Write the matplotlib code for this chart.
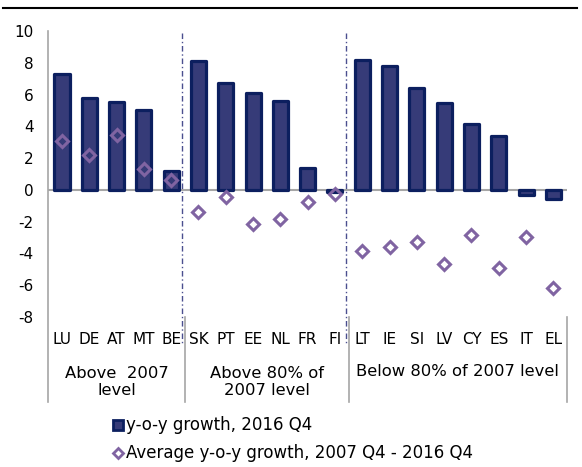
import matplotlib
matplotlib.use("Agg")
import matplotlib.pyplot as plt
from matplotlib.lines import Line2D
import numpy as np

countries = ["LU", "DE", "AT", "MT", "BE", "SK", "PT", "EE", "NL", "FR", "FI",
             "LT", "IE", "SI", "LV", "CY", "ES", "IT", "EL"]
growth_2016q4 = [7.3, 5.8, 5.55, 5.05, 1.2, 8.1, 6.7, 6.1, 5.6, 1.4, -0.15,
                 8.2, 7.8, 6.4, 5.5, 4.15, 3.4, -0.35, -0.6]
avg_growth = [3.05, 2.17, 3.46, 1.31, 0.61, -1.37, -0.46, -2.17, -1.85, -0.76, -0.25,
              -3.84, -3.61, -3.31, -4.64, -2.87, -4.89, -2.97, -6.16]
groups = ["Above  2007\nlevel", "Above 80% of\n2007 level", "Below 80% of 2007 level"]
group_sizes = [5, 6, 8]
yticks = [-8, -6, -4, -2, 0, 2, 4, 6, 8, 10]
legend_labels = ["y-o-y growth, 2016 Q4", "Average y-o-y growth, 2007 Q4 - 2016 Q4"]

BAR_FILL = "#363b78"
BAR_EDGE = "#0c1f5f"
DIAMOND = "#8064a2"
GRID_GRAY = "#a6a6a6"
FS = 11
FS_GROUP = 11.8
FS_LEG = 12

fig = plt.figure(figsize=(5.82, 4.67), dpi=100)
ax = fig.add_axes([48.35 / 582, 1 - 317 / 467, (567 - 48.35) / 582, 286 / 467])

x = np.arange(len(countries)) + 0.5
ax.bar(x, growth_2016q4, width=0.55, color=BAR_FILL, edgecolor=BAR_EDGE,
       linewidth=2.3, joinstyle="round", zorder=2)
ax.plot(x, avg_growth, linestyle="none", marker="D", markersize=6.3,
        markerfacecolor="none", markeredgecolor=DIAMOND, markeredgewidth=2.2, zorder=3)

ax.set_xlim(0, len(countries))
ax.set_ylim(-8, 10)
ax.set_yticks(yticks)
ax.set_yticklabels([str(v) for v in yticks], fontsize=FS)
ax.tick_params(axis="y", length=0, pad=10.5)
ax.set_xticks([])
for s in ["top", "right", "bottom", "left"]:
    ax.spines[s].set_visible(False)

ax.axhline(0, color=GRID_GRAY, linewidth=1.5, zorder=1)

trans = ax.get_xaxis_transform()
# left axis line extending into label area
ax.add_line(Line2D([0, 0], [1.0, -0.297], transform=trans, color=GRID_GRAY,
                   linewidth=1.2, clip_on=False))

# group separators
bounds = np.cumsum([0] + group_sizes)
for b in bounds[1:]:
    ax.add_line(Line2D([b, b], [0, -0.297], transform=trans, color=GRID_GRAY,
                       linewidth=1.2, clip_on=False))
for b in bounds[1:-1]:
    ax.add_line(Line2D([b - 0.1, b - 0.1], [0.993, -0.098], transform=trans,
                       color="#4b4f8f", linewidth=1.0, linestyle=(0, (4, 2, 1, 2)),
                       clip_on=False, zorder=1))

# category labels
for xi, c in zip(x, countries):
    ax.text(xi, -0.080, c, transform=trans, ha="center", va="center", fontsize=FS)

# group labels
for i, g in enumerate(groups):
    cx = (bounds[i] + bounds[i + 1]) / 2
    if "\n" in g:
        ax.text(cx, -0.227, g, transform=trans, ha="center", va="center",
                fontsize=FS_GROUP, linespacing=1.1)
    else:
        ax.text(cx, -0.192, g, transform=trans, ha="center", va="center", fontsize=FS_GROUP)

# top rule line
fig.add_artist(Line2D([3 / 582, 577 / 582], [1 - 8 / 467, 1 - 8 / 467],
                      transform=fig.transFigure, color="black", linewidth=1.5))

# legend (manual)
fig.add_artist(Line2D([118 / 582], [1 - 425 / 467], transform=fig.transFigure,
                      marker="s", markersize=7.5, markerfacecolor=BAR_FILL,
                      markeredgecolor=BAR_EDGE, markeredgewidth=2.0, linestyle="none"))
fig.text(125.5 / 582, 1 - 425 / 467, legend_labels[0], ha="left", va="center", fontsize=FS_LEG)
fig.add_artist(Line2D([118 / 582], [1 - 453 / 467], transform=fig.transFigure,
                      marker="D", markersize=5.5, markerfacecolor="none",
                      markeredgecolor=DIAMOND, markeredgewidth=2.0, linestyle="none"))
fig.text(125.5 / 582, 1 - 453 / 467, legend_labels[1], ha="left", va="center", fontsize=FS_LEG)

fig.savefig("out.png", dpi=100)
